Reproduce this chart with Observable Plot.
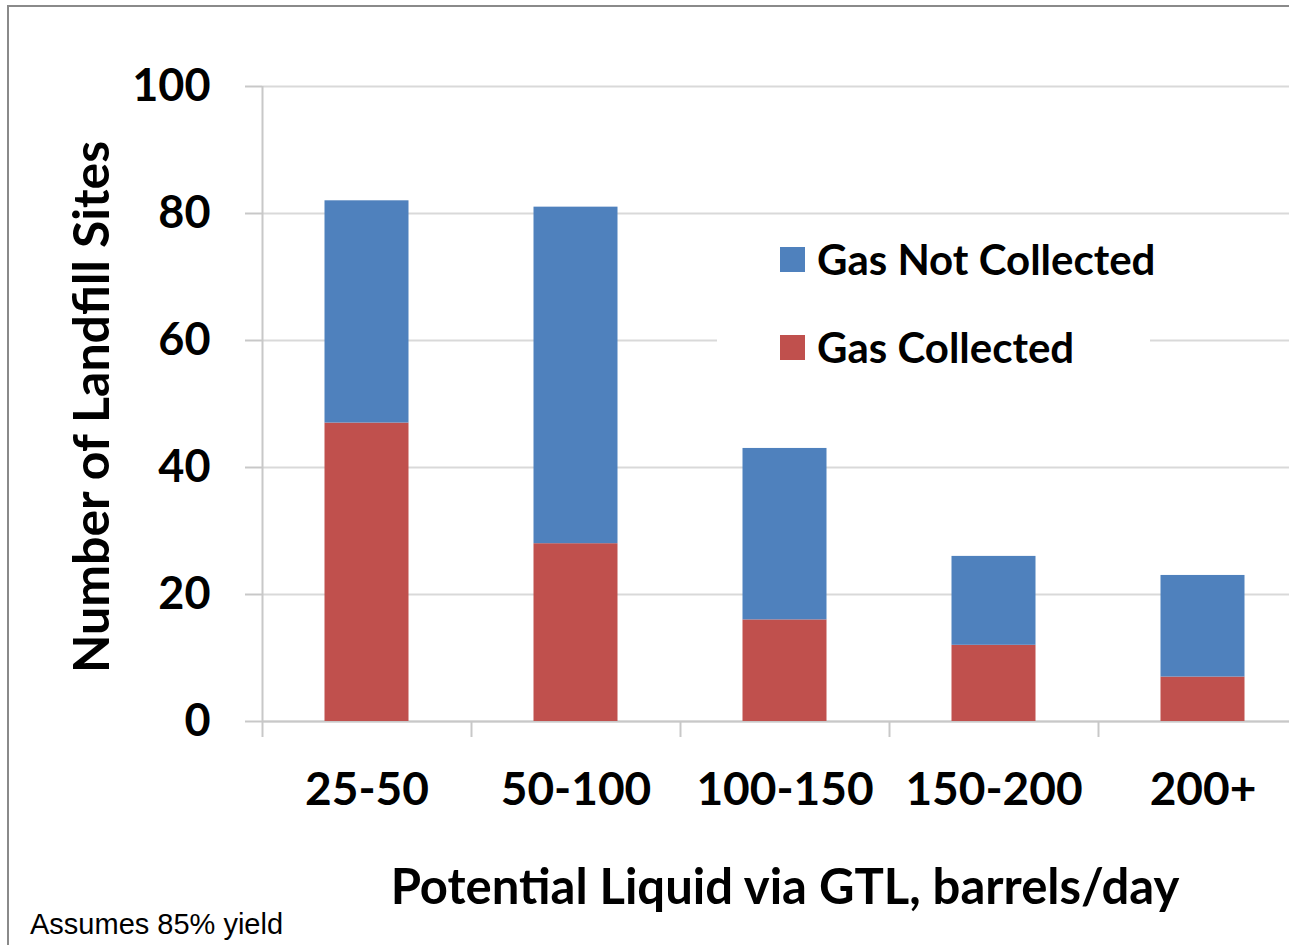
<!DOCTYPE html>
<html>
<head>
<meta charset="utf-8">
<script src="https://cdn.jsdelivr.net/npm/d3@7"></script>
<script src="https://cdn.jsdelivr.net/npm/@observablehq/plot@0.6"></script>
<style>
  html, body { margin: 0; padding: 0; background: #fff; overflow: hidden; }
  #wrap { position: relative; width: 1289px; height: 945px; }
  #frame { position: absolute; left: 7px; top: 5px; width: 2000px; height: 2000px; border: 2px solid #8a8a8a; pointer-events: none; }
  #legend { position: absolute; left: 717px; top: 222px; width: 433px; height: 170px; background: #fff; font-family: Lato, sans-serif; font-weight: 700; font-size: 42px; color: #000; }
  .item { position: absolute; left: 63px; display: flex; align-items: center; white-space: nowrap; }
  .sw { width: 25px; height: 25px; margin-right: 12px; flex: none; }
  #caption { position: absolute; left: 30px; top: 908px; font-family: "Liberation Sans", Arial, sans-serif; font-size: 29px; color: #000; white-space: nowrap; }
</style>
</head>
<body>
<div id="wrap">
  <div id="chart"></div>
  <div id="legend"></div>
  <div id="caption"></div>
  <div id="frame"></div>
</div>
<script>
const categories = ["25-50", "50-100", "100-150", "150-200", "200+"];
const gasCollected = [47, 28, 16, 12, 7];
const gasNotCollected = [35, 53, 27, 14, 16];
const seriesNames = ["Gas Collected", "Gas Not Collected"];
const seriesColors = ["#C0504D", "#4F81BD"];
const yTicks = [0, 20, 40, 60, 80, 100];
const xLabel = "Potential Liquid via GTL, barrels/day";
const yLabel = "Number of Landfill Sites";
const captionText = "Assumes 85% yield";

const rows = [];
categories.forEach((c, i) => {
  const a = gasCollected[i], b = gasNotCollected[i];
  rows.push({i, category: c, series: seriesNames[0], y1: 0, y2: a});
  rows.push({i, category: c, series: seriesNames[1], y1: a, y2: a + b});
});

const fontBold = {fontFamily: "Lato, sans-serif", fontWeight: 700};

const chart = Plot.plot({
  width: 1289,
  height: 945,
  marginLeft: 262,
  marginRight: -18,
  marginTop: 86,
  marginBottom: 224,
  style: {background: "transparent", fontFamily: "Lato, sans-serif", color: "#000"},
  x: {domain: [0, categories.length]},
  y: {domain: [0, 100]},
  color: {domain: seriesNames, range: seriesColors},
  marks: [
    Plot.gridY(yTicks, {stroke: "#d9d9d9", strokeOpacity: 1, strokeWidth: 2}),
    Plot.ruleX([0], {stroke: "#c8c8c8", strokeWidth: 2}),
    Plot.ruleY([0], {stroke: "#c8c8c8", strokeWidth: 2}),
    Plot.rectY(rows, {x1: d => d.i, x2: d => d.i + 1, y1: "y1", y2: "y2", fill: "series", insetLeft: 62.5, insetRight: 62.5}),
    Plot.axisY({ticks: yTicks, tickSize: 17, tickPadding: 35, stroke: "#c8c8c8", strokeWidth: 2, fontSize: 45, ...fontBold, label: null}),
    Plot.axisX({ticks: d3.range(categories.length + 1), tickSize: 16, tickFormat: () => "", stroke: "#c8c8c8", strokeWidth: 2, label: null}),
    Plot.axisX({ticks: categories.map((_, i) => i + 0.5), tickFormat: v => categories[Math.floor(v)], tickSize: 0, tickPadding: 51, fontSize: 46, ...fontBold, label: null}),
    Plot.text([yLabel], {frameAnchor: "left", textAnchor: "middle", rotate: -90, dx: -170, dy: 3, fontSize: 50, ...fontBold, fill: "#000"}),
    Plot.text([xLabel], {frameAnchor: "bottom", dy: 182, fontSize: 49, ...fontBold, fill: "#000"})
  ]
});
document.getElementById("chart").appendChild(chart);

const legend = document.getElementById("legend");
const order = [1, 0];
order.forEach((k, j) => {
  const item = document.createElement("div");
  item.className = "item";
  item.style.top = (j === 0 ? 12 : 100) + "px";
  const sw = document.createElement("div");
  sw.className = "sw";
  sw.style.background = seriesColors[k];
  const t = document.createElement("span");
  t.textContent = seriesNames[k];
  item.appendChild(sw);
  item.appendChild(t);
  legend.appendChild(item);
});
document.getElementById("caption").textContent = captionText;
</script>
</body>
</html>
